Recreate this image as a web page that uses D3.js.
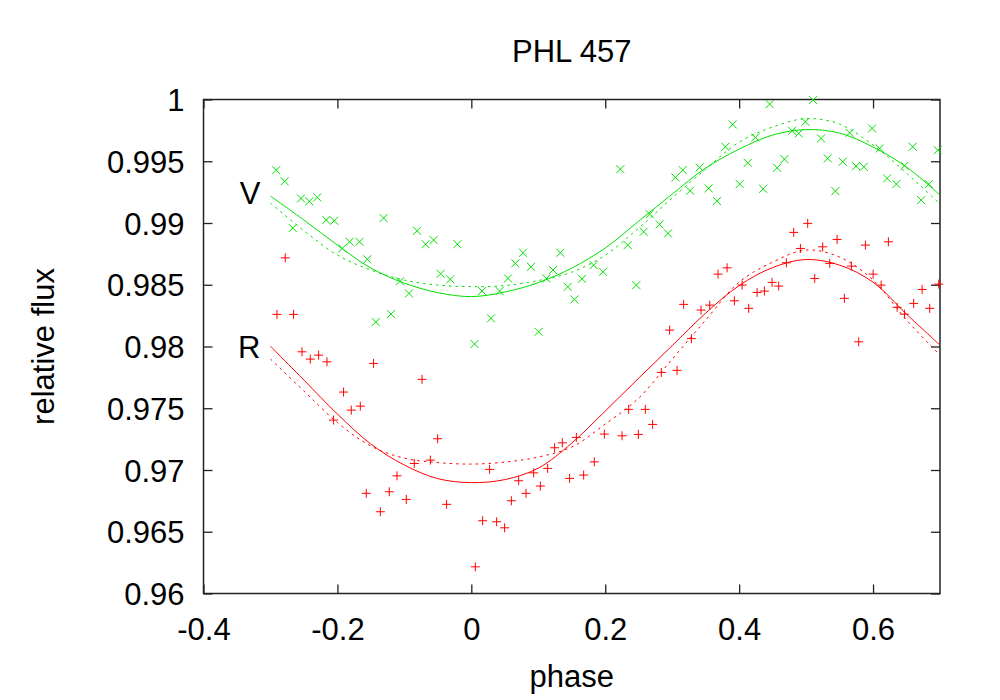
<!DOCTYPE html>
<html>
<head>
<meta charset="utf-8">
<script src="https://cdn.jsdelivr.net/npm/d3@7"></script>
<style>
  body { margin: 0; background: #fff; }
  text { font-family: "Liberation Sans", Arial, sans-serif; fill: #000; }
</style>
</head>
<body>
<script>
// Measured points (phase, relative flux)
var vPoints = [
  [-0.2913, 0.99428], [-0.2789, 0.99338], [-0.2544, 0.99199], [-0.2420, 0.99175],
  [-0.2301, 0.99207], [-0.2166, 0.99024], [-0.2047, 0.99018], [-0.2667, 0.98959],
  [-0.1310, 0.99040], [-0.0811, 0.98937], [-0.0683, 0.98828], [-0.0563, 0.98862],
  [-0.0209, 0.98828], [-0.1927, 0.98794], [-0.1818, 0.98848], [-0.1670, 0.98848],
  [-0.1554, 0.98706], [-0.1065, 0.98528], [-0.0931, 0.98430], [-0.0459, 0.98589],
  [-0.0314, 0.98544], [-0.1427, 0.98198], [-0.1200, 0.98262], [0.0160, 0.98449],
  [0.0423, 0.98449], [0.0294, 0.98228], [0.0049, 0.98020], [0.1005, 0.98119],
  [0.0548, 0.98551], [0.0657, 0.98673], [0.0772, 0.98759], [0.0892, 0.98645],
  [0.1120, 0.98551], [0.1220, 0.98619], [0.1330, 0.98759], [0.1439, 0.98483],
  [0.1539, 0.98381], [0.1654, 0.98548], [0.1827, 0.98659], [0.1967, 0.98605],
  [0.2226, 0.99436], [0.2335, 0.98821], [0.2465, 0.98497], [0.2574, 0.98929],
  [0.2664, 0.99072], [0.2813, 0.98989], [0.2938, 0.98916], [0.3048, 0.99369],
  [0.3157, 0.99428], [0.3267, 0.99261], [0.3411, 0.99450], [0.4456, 0.99963],
  [0.5105, 0.99995], [0.3904, 0.99798], [0.4243, 0.99693], [0.3795, 0.99617],
  [0.3545, 0.99280], [0.3670, 0.99177], [0.4008, 0.99315], [0.4128, 0.99487],
  [0.4358, 0.99277], [0.4567, 0.99447], [0.4676, 0.99517], [0.4791, 0.99747],
  [0.4890, 0.99726], [0.4990, 0.99819], [0.5224, 0.99685], [0.5323, 0.99523],
  [0.5438, 0.99258], [0.5547, 0.99496], [0.5651, 0.99730], [0.5747, 0.99461],
  [0.5861, 0.99455], [0.5986, 0.99766], [0.6100, 0.99604], [0.6210, 0.99361],
  [0.6349, 0.99315], [0.6469, 0.99463], [0.6592, 0.99617], [0.6718, 0.99185],
  [0.6832, 0.99315], [0.6966, 0.99590]
];

var rPoints = [
  [-0.2779, 0.98718], [-0.2903, 0.98260], [-0.2655, 0.98260], [-0.2529, 0.97957],
  [-0.2405, 0.97898], [-0.2281, 0.97930], [-0.2156, 0.97876], [-0.1460, 0.97863],
  [-0.1908, 0.97631], [-0.1793, 0.97485], [-0.1658, 0.97517], [-0.2057, 0.97404],
  [-0.0736, 0.97734], [-0.0503, 0.97253], [-0.0612, 0.97080], [-0.0852, 0.97053],
  [-0.1110, 0.96953], [-0.1225, 0.96824], [-0.1569, 0.96811], [-0.1359, 0.96662],
  [-0.0971, 0.96762], [-0.0369, 0.96722], [0.0060, 0.96216], [0.0169, 0.96589],
  [0.0378, 0.96581], [0.0497, 0.96532], [0.0273, 0.97005], [0.0598, 0.96751],
  [0.0707, 0.96913], [0.0817, 0.96811], [0.0931, 0.96977], [0.1031, 0.96870],
  [0.1140, 0.97013], [0.1244, 0.97180], [0.1359, 0.97220], [0.1468, 0.96932],
  [0.1569, 0.97264], [0.1678, 0.96959], [0.1837, 0.97066], [0.1987, 0.97291],
  [0.2251, 0.97277], [0.2350, 0.97491], [0.2495, 0.97288], [0.2599, 0.97491],
  [0.2708, 0.97369], [0.2838, 0.97790], [0.3073, 0.97807], [0.2962, 0.98133],
  [0.3171, 0.98341], [0.3287, 0.98064], [0.3431, 0.98295], [0.3560, 0.98335],
  [0.3685, 0.98586], [0.3820, 0.98637], [0.3929, 0.98370], [0.4044, 0.98497],
  [0.4143, 0.98309], [0.4268, 0.98438], [0.4377, 0.98449], [0.4492, 0.98519],
  [0.4591, 0.98489], [0.4706, 0.98678], [0.4815, 0.98924], [0.4915, 0.98794],
  [0.5024, 0.98997], [0.5129, 0.98551], [0.5248, 0.98807], [0.5353, 0.98673],
  [0.5463, 0.98867], [0.5572, 0.98390], [0.5677, 0.98651], [0.5786, 0.98038],
  [0.5886, 0.98821], [0.6001, 0.98586], [0.6121, 0.98497], [0.6229, 0.98848],
  [0.6360, 0.98317], [0.6469, 0.98262], [0.6607, 0.98349], [0.6733, 0.98462],
  [0.6846, 0.98309], [0.6981, 0.98505]
];

// Model curves at these phases
var modelPhase = [-0.3, -0.25, -0.2, -0.15, -0.1, -0.05, 0, 0.05, 0.1, 0.15, 0.2,
  0.25, 0.3, 0.35, 0.4, 0.45, 0.5, 0.55, 0.6, 0.65, 0.7];
var vModel = [0.99218, 0.99024, 0.98821, 0.98635, 0.98513, 0.98436, 0.98404, 0.98441,
  0.98517, 0.98635, 0.98797, 0.99015, 0.99234, 0.99445, 0.99598, 0.99712, 0.99756,
  0.99728, 0.99615, 0.99453, 0.99226];
var vModelAlt = [0.99161, 0.98938, 0.98740, 0.98619, 0.98538, 0.98497, 0.98485, 0.98493,
  0.98534, 0.98602, 0.98740, 0.98959, 0.99202, 0.99436, 0.99655, 0.99777, 0.99845,
  0.99801, 0.99631, 0.99404, 0.99153];
var rModel = [0.98003, 0.97728, 0.97453, 0.97210, 0.97040, 0.96930, 0.96898, 0.96922,
  0.97015, 0.97218, 0.97477, 0.97744, 0.98007, 0.98270, 0.98493, 0.98639, 0.98704,
  0.98659, 0.98521, 0.98262, 0.98011];
var rModelAlt = [0.97898, 0.97639, 0.97384, 0.97194, 0.97096, 0.97060, 0.97048, 0.97064,
  0.97105, 0.97186, 0.97372, 0.97582, 0.97898, 0.98214, 0.98521, 0.98683, 0.98781,
  0.98724, 0.98538, 0.98214, 0.97930];

// Axis ticks
var xTicks = [-0.4, -0.2, 0, 0.2, 0.4, 0.6];
var yTicks = [0.96, 0.965, 0.97, 0.975, 0.98, 0.985, 0.99, 0.995, 1];

var svgWidth = 1000;
var svgHeight = 700;

var margin = { top: 99.5, right: 60, bottom: 106.5, left: 203.5 };
var chartWidth = svgWidth - margin.left - margin.right;
var chartHeight = svgHeight - margin.top - margin.bottom;

var green = "#00e000";
var red = "#ff0000";
var fontSize = 31;

var svg = d3.select("body")
  .append("svg")
  .attr("width", svgWidth)
  .attr("height", svgHeight);

var chartGroup = svg.append("g")
  .attr("transform", `translate(${margin.left}, ${margin.top})`);

var xScale = d3.scaleLinear()
  .domain([-0.4, 0.7])
  .range([0, chartWidth]);

var yScale = d3.scaleLinear()
  .domain([0.96, 1])
  .range([chartHeight, 0]);

// plain hyphen minus like the original, not the unicode one d3.format gives
var plainFormat = d => String(d);

// Inward ticks on all four sides, labels only on left and bottom
var tickLen = 9;

var bottomAxis = d3.axisBottom(xScale).tickValues(xTicks).tickSize(-tickLen).tickFormat(plainFormat);
var topAxis = d3.axisTop(xScale).tickValues(xTicks).tickSize(-tickLen).tickFormat("");
var leftAxis = d3.axisLeft(yScale).tickValues(yTicks).tickSize(-tickLen).tickFormat(plainFormat);
var rightAxis = d3.axisRight(yScale).tickValues(yTicks).tickSize(-tickLen).tickFormat("");

function styleAxis(g) {
  g.select(".domain").remove();
  g.selectAll(".tick line").attr("stroke", "#222").attr("stroke-width", 1.3);
  g.selectAll(".tick text")
    .style("font-size", fontSize + "px")
    .style("font-family", "'Liberation Sans', Arial, sans-serif")
    .attr("fill", "#000");
}

chartGroup.append("g")
  .attr("transform", `translate(0, ${chartHeight})`)
  .call(bottomAxis)
  .call(styleAxis)
  .selectAll(".tick text").attr("dy", "0.71em").attr("y", 24);

chartGroup.append("g").call(topAxis).call(styleAxis);

chartGroup.append("g")
  .call(leftAxis)
  .call(styleAxis)
  .selectAll(".tick text").attr("dy", "0.36em").attr("x", -19);

chartGroup.append("g")
  .attr("transform", `translate(${chartWidth}, 0)`)
  .call(rightAxis)
  .call(styleAxis);

// Frame
chartGroup.append("rect")
  .attr("x", 0)
  .attr("y", 0)
  .attr("width", chartWidth)
  .attr("height", chartHeight)
  .attr("fill", "none")
  .attr("stroke", "#222")
  .attr("stroke-width", 1.5);

// Model lines
function modelLine(values) {
  return d3.line()
    .x((d, i) => xScale(modelPhase[i]))
    .y(d => yScale(d))
    .curve(d3.curveCatmullRom)(values);
}

chartGroup.append("path").attr("d", modelLine(vModel))
  .attr("fill", "none").attr("stroke", green).attr("stroke-width", 1);
chartGroup.append("path").attr("d", modelLine(vModelAlt))
  .attr("fill", "none").attr("stroke", green).attr("stroke-width", 1)
  .attr("stroke-dasharray", "2.5,4");
chartGroup.append("path").attr("d", modelLine(rModel))
  .attr("fill", "none").attr("stroke", red).attr("stroke-width", 1);
chartGroup.append("path").attr("d", modelLine(rModelAlt))
  .attr("fill", "none").attr("stroke", red).attr("stroke-width", 1)
  .attr("stroke-dasharray", "2.5,4");

// V points as crosses
var s = 4;
chartGroup.append("g").selectAll("path")
  .data(vPoints)
  .enter()
  .append("path")
  .attr("transform", d => `translate(${xScale(d[0])}, ${yScale(d[1])})`)
  .attr("d", `M${-s},${-s}L${s},${s}M${-s},${s}L${s},${-s}`)
  .attr("stroke", green)
  .attr("stroke-width", 1);

// R points as plus signs
var p = 4.5;
chartGroup.append("g").selectAll("path")
  .data(rPoints)
  .enter()
  .append("path")
  .attr("transform", d => `translate(${xScale(d[0])}, ${yScale(d[1])})`)
  .attr("d", `M${-p},0L${p},0M0,${-p}L0,${p}`)
  .attr("stroke", red)
  .attr("stroke-width", 1);

// Band labels
chartGroup.append("text")
  .attr("x", xScale(-0.3) - 10)
  .attr("y", yScale(0.99218) + 8)
  .attr("text-anchor", "end")
  .style("font-size", fontSize + "px")
  .text("V");

chartGroup.append("text")
  .attr("x", xScale(-0.3) - 10)
  .attr("y", yScale(0.98003) + 12)
  .attr("text-anchor", "end")
  .style("font-size", fontSize + "px")
  .text("R");

// Title and axis titles
svg.append("text")
  .attr("x", margin.left + chartWidth / 2)
  .attr("y", 62)
  .attr("text-anchor", "middle")
  .style("font-size", fontSize + "px")
  .text("PHL 457");

svg.append("text")
  .attr("x", margin.left + chartWidth / 2)
  .attr("y", 687)
  .attr("text-anchor", "middle")
  .style("font-size", fontSize + "px")
  .text("phase");

svg.append("text")
  .attr("transform", `translate(54, ${margin.top + chartHeight / 2}) rotate(-90)`)
  .attr("text-anchor", "middle")
  .style("font-size", fontSize + "px")
  .text("relative flux");
</script>
</body>
</html>
